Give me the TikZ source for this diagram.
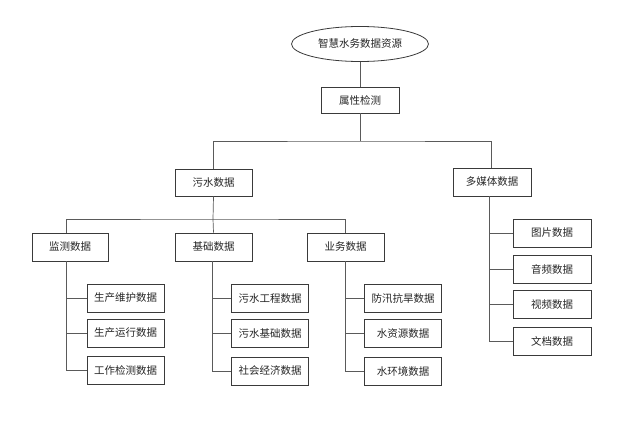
\documentclass[tikz,border=0pt]{standalone}
\usepackage{fontspec}
\newfontfamily\cjk{Noto Sans CJK SC}
\usetikzlibrary{shapes.geometric}
\definecolor{boxline}{HTML}{3A3A3A}
\definecolor{conn}{HTML}{5A5A5A}
\begin{document}
\begin{tikzpicture}[x=1pt,y=-1pt,
  every node/.style={font=\cjk\fontsize{10.5}{12}\selectfont, text=black!85, inner sep=0pt},
  databox/.style={draw=boxline, line width=0.8pt, minimum width=77pt, minimum height=28pt},
  rootshape/.style={draw=boxline, line width=0.8pt, ellipse, minimum width=137pt, minimum height=35pt},
  link/.style={draw=conn, line width=0.7pt}]
\useasboundingbox[fill=white] (0,0) rectangle (640,425);
\node[rootshape] (root) at (360,44) {智慧水务数据资源};
\node[databox, minimum width=78pt, minimum height=26pt] (attr) at (360,100) {属性检测};
\node[databox, minimum height=27pt] (ws) at (213.5,182.5) {污水数据};
\node[databox, minimum width=78pt] (mm) at (492,182) {多媒体数据};
\node[databox, minimum width=76pt] (jc) at (70,247) {监测数据};
\node[databox] (jj) at (213.5,247) {基础数据};
\node[databox] (yw) at (345.5,247) {业务数据};
% column 1
\node[databox] (a1) at (125.5,298) {生产维护数据};
\node[databox] (a2) at (125.5,333) {生产运行数据};
\node[databox] (a3) at (125.5,370) {工作检测数据};
% column 2
\node[databox] (b1) at (270,298.5) {污水工程数据};
\node[databox] (b2) at (270,333.5) {污水基础数据};
\node[databox] (b3) at (270,371) {社会经济数据};
% column 3
\node[databox] (c1) at (403,298.5) {防汛抗旱数据};
\node[databox] (c2) at (403,333.5) {水资源数据};
\node[databox] (c3) at (403,371) {水环境数据};
% column 4
\node[databox, minimum width=78pt] (d1) at (552,233) {图片数据};
\node[databox, minimum width=78pt] (d2) at (552,269.5) {音频数据};
\node[databox, minimum width=78pt] (d3) at (552,304.5) {视频数据};
\node[databox, minimum width=78pt] (d4) at (552,341.5) {文档数据};
% bus coordinates
\coordinate (bus1) at (360,141);
\coordinate (bus2) at (213,219);
% connectors
\draw[link] (root.south) -- (attr.north);
\draw[link] (attr.south) -- (bus1);
\draw[link] (ws.north) |- (bus1) -| ([xshift=-1pt]mm.north);
\draw[link] (ws.south) -- (bus2);
\draw[link] ([xshift=-4pt]jc.north) |- (bus2) -| (yw.north);
\draw[link] (bus2) -- (jj.north);
\foreach \n in {a1,a2,a3} \draw[link] ([xshift=-4pt]jc.south) |- (\n.west);
\foreach \n in {b1,b2,b3} \draw[link] ([xshift=-1pt]jj.south) |- (\n.west);
\foreach \n in {c1,c2,c3} \draw[link] (yw.south) |- (\n.west);
\foreach \n in {d1,d2,d3,d4} \draw[link] ([xshift=-3pt]mm.south) |- (\n.west);
\end{tikzpicture}
\end{document}
